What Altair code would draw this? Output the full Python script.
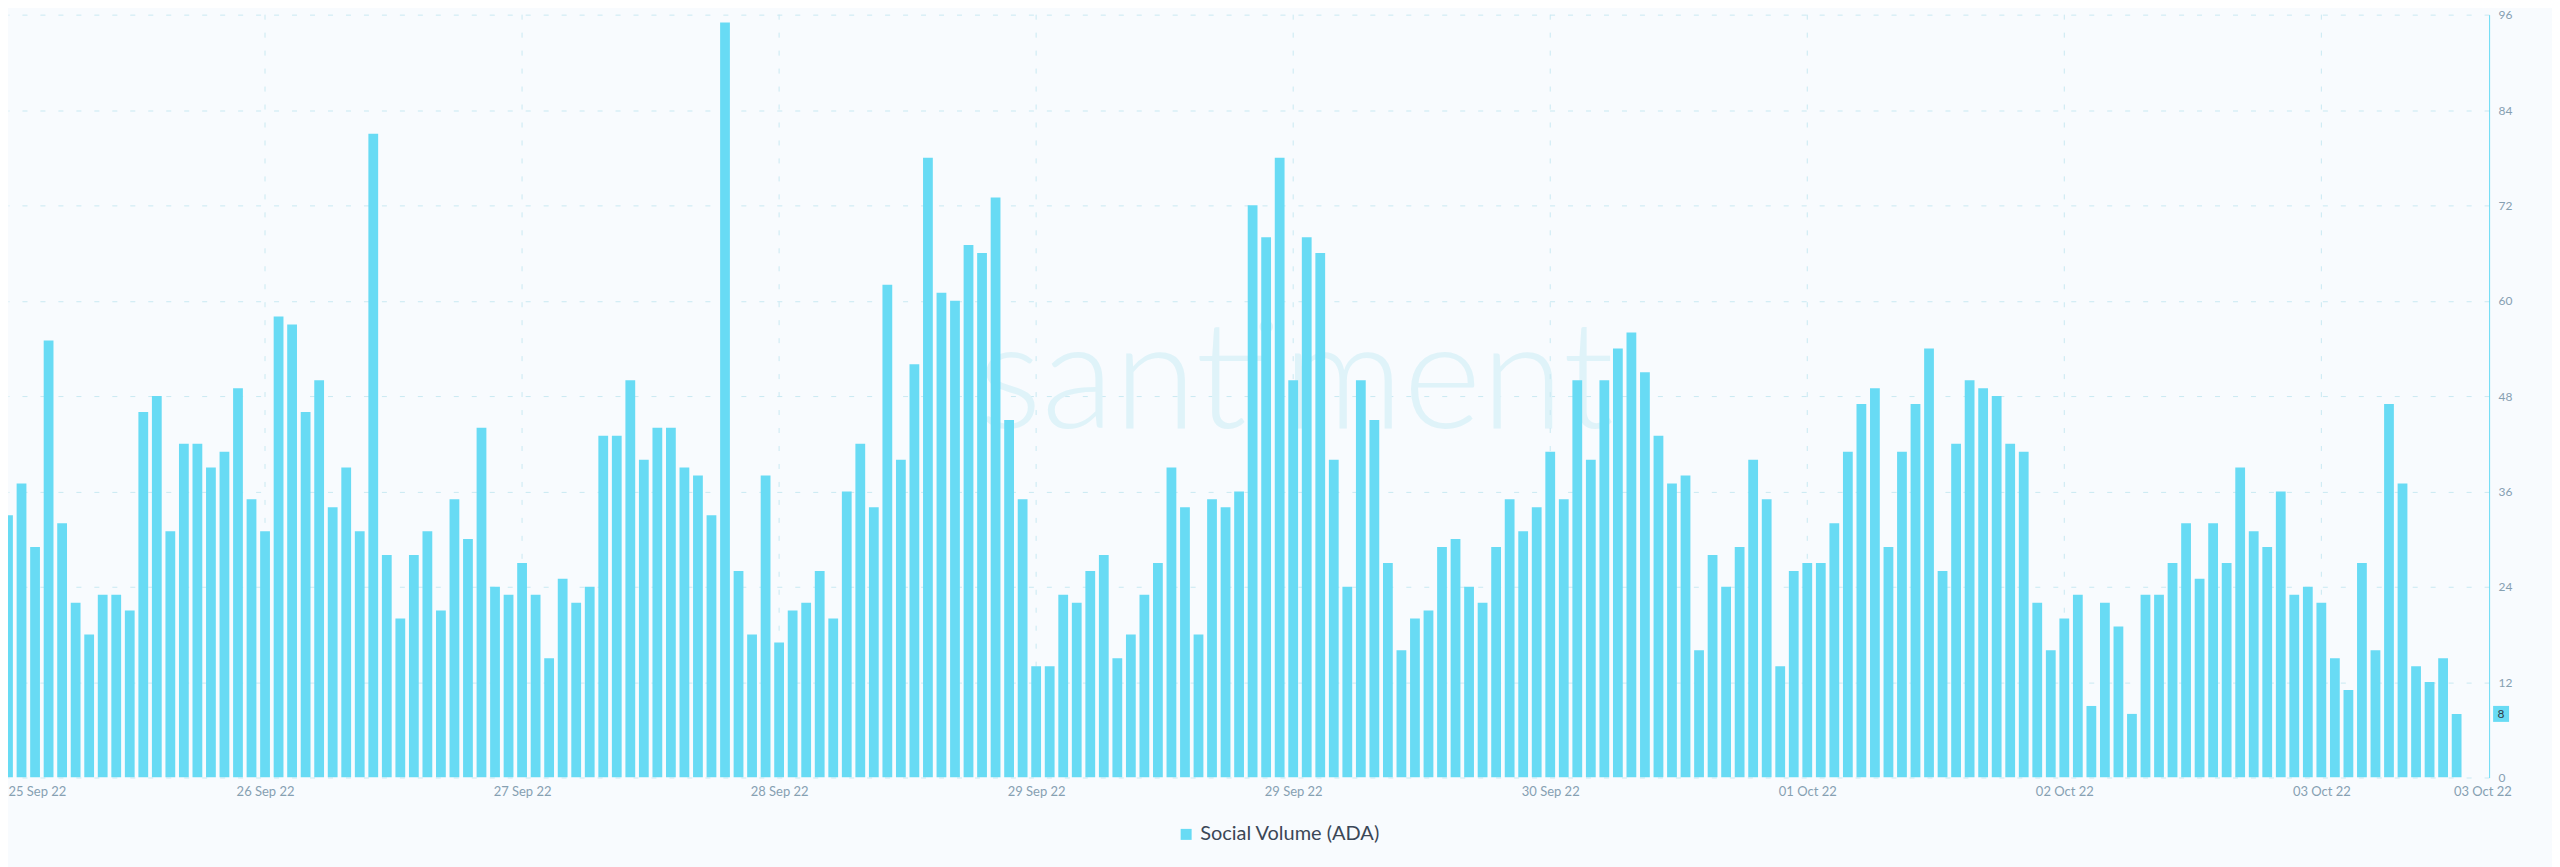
import altair as alt
import pandas as pd

# Hourly social volume (ADA)
volume = [
    33, 37, 29, 55, 32, 22, 18, 23, 23, 21, 46, 48, 31, 42, 42, 39, 41, 49, 35, 31,
    58, 57, 46, 50, 34, 39, 31, 81, 28, 20, 28, 31, 21, 35, 30, 44, 24, 23, 27, 23,
    15, 25, 22, 24, 43, 43, 50, 40, 44, 44, 39, 38, 33, 95, 26, 18, 38, 17, 21, 22,
    26, 20, 36, 42, 34, 62, 40, 52, 78, 61, 60, 67, 66, 73, 45, 35, 14, 14, 23, 22,
    26, 28, 15, 18, 23, 27, 39, 34, 18, 35, 34, 36, 72, 68, 78, 50, 68, 66, 40, 24,
    50, 45, 27, 16, 20, 21, 29, 30, 24, 22, 29, 35, 31, 34, 41, 35, 50, 40, 50, 54,
    56, 51, 43, 37, 38, 16, 28, 24, 29, 40, 35, 14, 26, 27, 27, 32, 41, 47, 49, 29,
    41, 47, 54, 26, 42, 50, 49, 48, 42, 41, 22, 16, 20, 23, 9, 22, 19, 8, 23, 23,
    27, 32, 25, 32, 27, 39, 31, 29, 36, 23, 24, 22, 15, 11, 27, 16, 47, 37, 14, 12,
    15, 8,
]
start_time = "2022-09-25 22:00"
series_name = "Social Volume (ADA)"
y_ticks = [0, 12, 24, 36, 48, 60, 72, 84, 96]

times = pd.date_range(start_time, periods=len(volume), freq="h")
grid_times = [times[i] for i in range(19, len(volume), 19)]
label_times = [times[0]] + grid_times + [times[-1] + pd.Timedelta(minutes=114)]
domain_end = times[-1] + pd.Timedelta(minutes=144)


def dt(ts):
    return alt.DateTime(year=ts.year, month=ts.month, date=ts.day,
                        hours=ts.hour, minutes=ts.minute)


W, H = 2485, 764
BAR = "#68dbf4"
LABEL = "#86a0b2"
GRID = "#c9e9f2"
FONT = "Lato"

df = pd.DataFrame({"time": times, "volume": volume, "series": series_name})
grid_df = pd.DataFrame({"time": grid_times})
last_df = pd.DataFrame({"volume": [volume[-1]]})

xscale = alt.Scale(domain=[dt(times[0]), dt(domain_end)], nice=False, padding=0)
yscale = alt.Scale(domain=[0, 96], nice=False)

watermark = alt.Chart(pd.DataFrame({"t": ["santiment"]})).mark_text(
    font=FONT, fontSize=150, fontWeight=300, color="#dff3f9",
    align="center", baseline="alphabetic"
).encode(text="t:N", x=alt.value(1290), y=alt.value(414))

vgrid = alt.Chart(grid_df).mark_rule(
    color=GRID, strokeWidth=1, strokeDash=[5, 13]
).encode(x=alt.X("time:T", scale=xscale))

bars = alt.Chart(df).mark_bar(width=9.8, clip=True).encode(
    x=alt.X("time:T", scale=xscale, title=None,
            axis=alt.Axis(values=[dt(t) for t in label_times], format="%d %b %y",
                          labelFlush=4, grid=False, domain=False, ticks=False,
                          labelPadding=8, labelFontSize=13, labelColor=LABEL,
                          labelFont=FONT, labelOverlap=False)),
    y=alt.Y("volume:Q", scale=yscale, title=None,
            axis=alt.Axis(orient="right", values=y_ticks, grid=True,
                          gridDash=[5, 13], gridColor=GRID, domainColor=BAR,
                          ticks=False, tickSize=0, labelPadding=9,
                          labelFontSize=12, labelColor=LABEL, labelFont=FONT)),
    color=alt.Color("series:N",
                    scale=alt.Scale(domain=[series_name], range=[BAR]),
                    legend=alt.Legend(orient="none", legendX=1170, legendY=811,
                                      title=None, symbolType="square",
                                      symbolSize=121, symbolStrokeWidth=0,
                                      labelFontSize=20, labelColor="#3b4756",
                                      labelFont=FONT, labelLimit=500, padding=0)),
)

last_box = alt.Chart(last_df).mark_square(
    size=256, color=BAR, opacity=1
).encode(y=alt.Y("volume:Q", scale=yscale), x=alt.value(W + 12))

last_text = alt.Chart(last_df).mark_text(
    fontSize=12, color="#2f3b48", font=FONT
).encode(y=alt.Y("volume:Q", scale=yscale), x=alt.value(W + 12), text="volume:Q")

chart = alt.layer(watermark, vgrid, bars, last_box, last_text).properties(
    width=W, height=H, background="#f8fbfe",
    padding={"left": 0, "top": 0, "right": 40, "bottom": 30},
).configure_view(stroke=None)

chart.save("out.html", embed_options={"renderer": "svg", "actions": False})
